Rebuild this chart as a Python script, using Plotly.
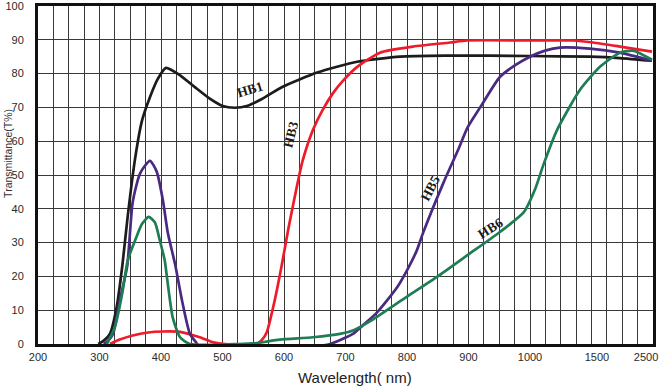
import numpy as np
import plotly.graph_objects as go

# ---- axis scale (the original chart uses a broken wavelength scale) ----
KNOT_NM = [200, 1000, 1500, 2600]
KNOT_POS = [0, 32, 36.35, 40.035]
TICK_NM = [200, 300, 400, 500, 600, 700, 800, 900, 1000, 1500, 2500]
TICK_TEXT = [str(v) for v in TICK_NM]

# ---- data: wavelength (nm) / transmittance (%) ----
hb1_nm = [298, 307, 317, 328, 337, 346, 358, 369, 382, 395, 408, 431, 455, 480, 499, 520, 541, 564,
          598, 654, 719, 789, 865, 935, 1000, 1448, 1948, 2570]
hb1_t = [0, 1, 3, 11, 23, 38, 55, 66, 73, 78.5, 81.7, 79.5, 76, 72.5, 70.5, 69.9, 70.5, 72.5,
         76.1, 80.3, 83.5, 85, 85.3, 85.3, 85.2, 85, 84.6, 83.8]

hb3_nm = [317, 333, 354, 379, 403, 431, 463, 485, 504, 556, 564, 572, 585, 596, 607, 618, 630, 647,
          662, 680, 699, 719, 756, 810, 870, 898, 1000, 1322, 1471, 1948, 2570]
hb3_t = [0, 1.3, 2.5, 3.4, 3.7, 3.6, 2, 0.5, 0, 0, 1.2, 3.5, 13, 23, 34, 44, 54, 63.3,
         69, 74.3, 78.5, 82, 86.2, 88, 89.2, 89.8, 89.8, 89.8, 89.2, 88, 86.5]

hb5_nm = [307, 314, 322, 333, 345, 354, 366, 382, 393, 403, 411, 423, 434, 447, 457, 463, 610, 642,
          675, 712, 728, 751, 784, 800, 816, 826, 859, 883, 898, 919, 951, 976, 1000, 1113, 1224,
          1448, 1948, 2570]
hb5_t = [0, 1, 3, 13, 23, 42, 50.5, 54.2, 51, 42.6, 33, 23.5, 13, 3, 0.5, -0.8, -0.8, -0.8,
         0, 3, 5.5, 9.3, 16.8, 21.8, 27.7, 32.8, 47.6, 57.4, 63.9, 70, 79, 82.5, 85, 86.8, 87.7,
         87.4, 86.2, 83.8]

hb6_nm = [312, 325, 337, 346, 358, 369, 380, 390, 398, 406, 411, 419, 431, 447, 528, 556, 593, 647,
          691, 712, 745, 800, 850, 900, 950, 990, 1040, 1100, 1202, 1374, 1560, 1948, 2201, 2570]
hb6_t = [0, 5, 15, 24.8, 30.7, 35.5, 37.6, 36, 30.7, 24.8, 17.9, 7.9, 2, 0, 0, 0.3, 1.3, 2,
         3, 4, 7.3, 14, 20, 26.5, 33, 39, 46, 53, 63.3, 75.2, 82, 86.2, 86.8, 84.1]


def pos(nm):
    return np.interp(np.asarray(nm, dtype=float), KNOT_NM, KNOT_POS)


series = [
    ("HB1", hb1_nm, hb1_t, "#1c1c1c"),
    ("HB3", hb3_nm, hb3_t, "#ee1c2a"),
    ("HB5", hb5_nm, hb5_t, "#4a2a80"),
    ("HB6", hb6_nm, hb6_t, "#1e7d55"),
]

fig = go.Figure()
for name, xs, ys, col in series:
    fig.add_trace(go.Scatter(
        x=pos(xs), y=ys, mode="lines", name=name,
        line=dict(color=col, width=2.7, shape="spline", smoothing=0.6),
        showlegend=False, hoverinfo="skip", cliponaxis=False,
    ))

# invisible trace to carry the tick-label axis
fig.add_trace(go.Scatter(x=[0, 40], y=[0, 0], xaxis="x2", mode="lines",
                         line=dict(width=0), showlegend=False, hoverinfo="skip"))

tick_font = dict(family="Liberation Sans, Arial, sans-serif", size=11, color="#2a2a2a")
tick_pos = list(pos(TICK_NM))
tick_pos[-1] = 39.55  # keep the last label inside the page

fig.update_layout(
    width=660, height=390,
    margin=dict(l=38, r=7, t=6, b=46),
    paper_bgcolor="white", plot_bgcolor="white",
    xaxis=dict(range=[0, 40], dtick=1, tick0=0, showgrid=True, gridcolor="#3a3a3a", gridwidth=1,
               showticklabels=False, ticks="", zeroline=False, automargin=False,
               showline=True, linecolor="#111", linewidth=3, mirror=True),
    xaxis2=dict(range=[0, 40], overlaying="x", anchor="y", side="bottom",
                tickvals=tick_pos, ticktext=TICK_TEXT, showgrid=False, automargin=False,
                ticklabeloverflow="allow",
                ticks="", ticklabelstandoff=5, tickfont=tick_font, zeroline=False, showline=False),
    yaxis=dict(range=[0, 100], dtick=10, showgrid=True, gridcolor="#3a3a3a", gridwidth=1,
               ticks="", ticklabelstandoff=9, tickfont=tick_font, zeroline=False, automargin=False,
               ticklabeloverflow="allow",
               showline=True, linecolor="#111", linewidth=3, mirror=True),
)

lab_font = dict(family="Liberation Serif, Times New Roman, serif", size=13.5, color="#1a1a1a")
labels = [("<b>HB1</b>", 13.79, 75.2, -17), ("<b>HB3</b>", 16.46, 61.9, -76),
          ("<b>HB5</b>", 25.5, 46.1, -62), ("<b>HB6</b>", 29.4, 34.3, -32)]
for txt, lx, ly, ang in labels:
    fig.add_annotation(x=lx, y=ly, text=txt, showarrow=False, textangle=ang, font=lab_font)

fig.add_annotation(xref="paper", yref="paper", x=0.515, y=-0.1, yanchor="middle",
                   text="Wavelength( nm)", showarrow=False,
                   font=dict(family="Liberation Sans, Arial, sans-serif", size=15, color="#222"))
fig.add_annotation(xref="paper", yref="paper", x=-0.049, y=0.565, xanchor="center",
                   text="Transmittance(T%)", showarrow=False, textangle=-90,
                   font=dict(family="Liberation Sans, Arial, sans-serif", size=10.5, color="#333"))

fig.write_html("out.html", config={"displayModeBar": False},
               post_script="document.body.style.margin='0';")
